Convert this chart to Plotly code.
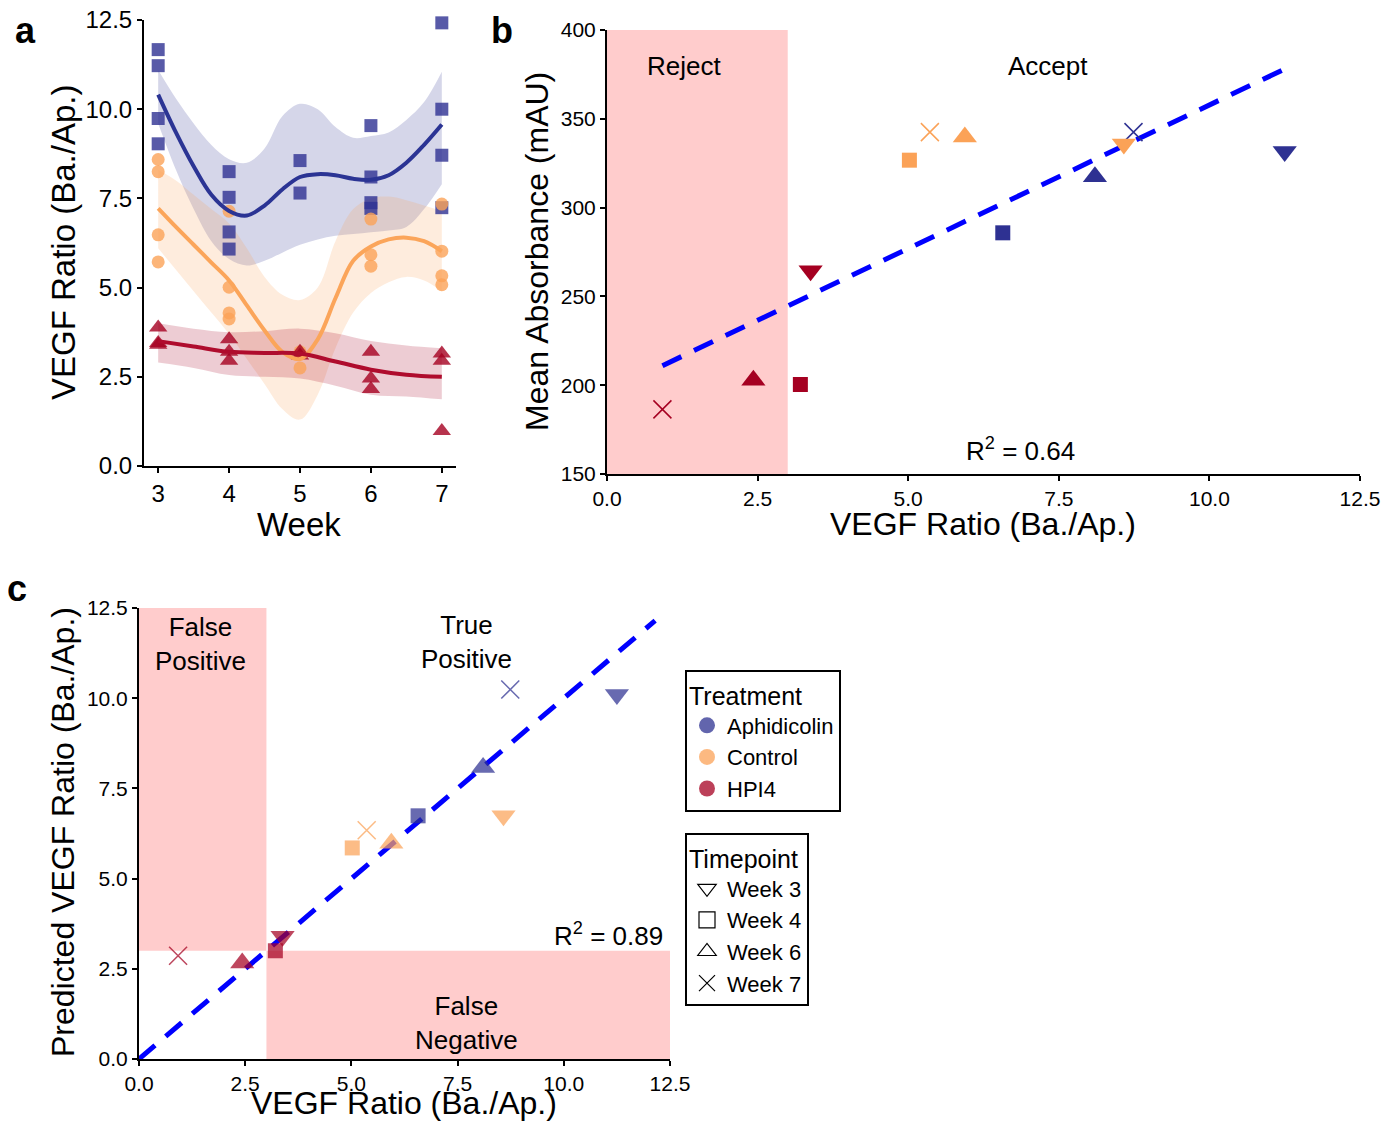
import plotly.graph_objects as go

W, H = 1395, 1122
OFF = 8  # page body margin in the browser
FONT = "Liberation Sans, Arial, Helvetica, sans-serif"

# ---------------- Panel a data ----------------
a_aph_week = [3, 3, 3, 3, 4, 4, 4, 4, 5, 5, 6, 6, 6, 6, 7, 7, 7, 7]
a_aph_val = [11.67, 11.22, 9.74, 9.03, 8.25, 7.53, 6.56, 6.08, 8.56, 7.65,
             9.54, 8.10, 7.38, 7.22, 12.42, 10.0, 8.71, 7.24]
a_ctl_week = [3, 3, 3, 3, 4, 4, 4, 4, 5, 5, 6, 6, 6, 7, 7, 7, 7]
a_ctl_val = [8.59, 8.25, 6.48, 5.72, 7.14, 5.01, 4.29, 4.12, 3.2, 2.75,
             6.92, 5.92, 5.6, 7.34, 6.02, 5.33, 5.08]
a_hpi_week = [3, 3, 3, 4, 4, 4, 5, 5, 6, 6, 6, 7, 7, 7]
a_hpi_val = [3.88, 3.45, 3.40, 3.55, 3.2, 2.95, 3.2, 3.1, 3.2, 2.45, 2.16,
             3.15, 2.95, 0.98]

fit_x = [3, 3.25, 3.5, 3.75, 4, 4.25, 4.5, 4.75, 5, 5.25, 5.5, 5.75, 6,
         6.25, 6.5, 6.75, 7]
aph_fit = [10.41, 9.35, 8.4, 7.6, 7.15, 7.02, 7.3, 7.75, 8.1, 8.18, 8.15,
           8.05, 8.02, 8.15, 8.5, 9.0, 9.57]
aph_hi = [11.1, 10.3, 9.6, 9.0, 8.6, 8.5, 8.9, 9.8, 10.15, 10.0, 9.5, 9.2,
          9.25, 9.35, 9.7, 10.2, 11.05]
aph_lo = [9.6, 8.3, 7.2, 6.3, 5.8, 5.62, 5.75, 5.98, 6.2, 6.35, 6.45, 6.5,
          6.55, 6.6, 6.7, 7.2, 7.9]
ctl_fit = [7.22, 6.7, 6.2, 5.7, 5.2, 4.5, 3.8, 3.2, 3.0, 3.55, 4.7, 5.75,
           6.15, 6.35, 6.4, 6.3, 6.02]
ctl_hi = [8.3, 8.0, 7.6, 7.2, 6.8, 6.1, 5.3, 4.8, 4.65, 5.0, 6.3, 7.2, 7.5,
          7.55, 7.45, 7.3, 7.15]
ctl_lo = [6.1, 5.5, 4.9, 4.3, 3.7, 3.0, 2.3, 1.6, 1.3, 2.0, 3.3, 4.3, 4.85,
          5.15, 5.3, 5.2, 4.9]
hpi_fit_x = [3, 3.5, 4, 4.5, 5, 5.5, 6, 6.5, 7]
hpi_fit = [3.5, 3.35, 3.2, 3.17, 3.15, 2.93, 2.7, 2.56, 2.5]
hpi_hi = [4.0, 3.85, 3.75, 3.78, 3.85, 3.72, 3.5, 3.38, 3.3]
hpi_lo = [2.9, 2.75, 2.55, 2.5, 2.45, 2.25, 2.0, 1.95, 1.87]

# ---------------- Panels b / c data ----------------
pt_treat = ["HPI4", "HPI4", "HPI4", "HPI4",
            "Control", "Control", "Control", "Control",
            "Aphidicolin", "Aphidicolin", "Aphidicolin", "Aphidicolin"]
pt_week = [7, 6, 4, 3, 4, 7, 6, 3, 7, 6, 4, 3]
obs_ratio = [0.92, 2.43, 3.21, 3.38, 5.02, 5.36, 5.94, 8.58, 8.74, 8.10, 6.57, 11.25]
mean_abs = [186.4, 202.8, 200.4, 264.4, 326.7, 342.5, 339.7, 335.8,
            342.5, 317.4, 285.8, 331.6]
pred_ratio = [2.86, 2.66, 3.0, 3.40, 5.85, 6.34, 5.98, 6.74, 10.24, 8.08, 6.74, 10.1]

fitb_x = [0.92, 11.25]
fitb_y = [211, 378]
fitc_x = [0, 12.15]
fitc_y = [0, 12.15]

treatments = ["Aphidicolin", "Control", "HPI4"]
timepoints = [3, 4, 6, 7]
timepoint_labels = ["Week 3", "Week 4", "Week 6", "Week 7"]

# ---------------- styles ----------------
COL = {"Aphidicolin": (46, 49, 146), "Control": (251, 162, 87), "HPI4": (165, 0, 33)}
LINECOL = {"Aphidicolin": "#2B3494", "Control": "#FBA55A", "HPI4": "#AF0C2D"}
SYM = {3: "triangle-down", 4: "square", 6: "triangle-up", 7: "x-thin"}
SIZE = {3: 21, 4: 15, 6: 21, 7: 18}
OPEN_SYM = {3: "triangle-down-open", 4: "square-open", 6: "triangle-up-open", 7: "x-thin"}
DASH = "21px,14px"


def rgba(t, a):
    return "rgba(%d,%d,%d,%s)" % (t[0], t[1], t[2], a)


def px(x):
    return (x - OFF) / W


def py(y):
    return 1 - (y - OFF) / H


fig = go.Figure()

# ----- panel a: ribbons -----
groups_a = [
    ("Aphidicolin", fit_x, aph_fit, aph_hi, aph_lo, a_aph_week, a_aph_val, "square", 13),
    ("Control", fit_x, ctl_fit, ctl_hi, ctl_lo, a_ctl_week, a_ctl_val, "circle", 13),
    ("HPI4", hpi_fit_x, hpi_fit, hpi_hi, hpi_lo, a_hpi_week, a_hpi_val, "triangle-up", 16),
]
for name, xs, fit, hi, lo, wk, val, sym, sz in groups_a:
    fig.add_trace(go.Scatter(x=xs, y=lo, mode="lines", line=dict(width=0, shape="spline"),
                             xaxis="x", yaxis="y", showlegend=False, hoverinfo="skip"))
    fig.add_trace(go.Scatter(x=xs, y=hi, mode="lines", line=dict(width=0, shape="spline"),
                             fill="tonexty", fillcolor=rgba(COL[name], 0.2),
                             xaxis="x", yaxis="y", showlegend=False, hoverinfo="skip"))
for name, xs, fit, hi, lo, wk, val, sym, sz in groups_a:
    fig.add_trace(go.Scatter(x=wk, y=val, mode="markers",
                             marker=dict(symbol=sym, size=sz, color=rgba(COL[name], 0.8),
                                         line=dict(width=0)),
                             xaxis="x", yaxis="y", showlegend=False, cliponaxis=False))
for name, xs, fit, hi, lo, wk, val, sym, sz in groups_a:
    fig.add_trace(go.Scatter(x=xs, y=fit, mode="lines",
                             line=dict(width=4, color=LINECOL[name], shape="spline"),
                             xaxis="x", yaxis="y", showlegend=False))


def scatter_pts(yvals, xa, ya, alpha):
    for name in treatments:
        idx = [i for i, t in enumerate(pt_treat) if t == name]
        syms = [SYM[pt_week[i]] for i in idx]
        sizes = [SIZE[pt_week[i]] for i in idx]
        lw = [1.5 if pt_week[i] == 7 else 0 for i in idx]
        fig.add_trace(go.Scatter(
            x=[obs_ratio[i] for i in idx], y=[yvals[i] for i in idx], mode="markers",
            marker=dict(symbol=syms, size=sizes, color=rgba(COL[name], 1),
                        opacity=alpha, line=dict(width=lw, color=rgba(COL[name], 1))),
            xaxis=xa, yaxis=ya, showlegend=False, cliponaxis=False))


# ----- panel b -----
fig.add_trace(go.Scatter(x=fitb_x, y=fitb_y, mode="lines",
                         line=dict(color="#0000FF", width=5, dash=DASH),
                         xaxis="x2", yaxis="y2", showlegend=False))
scatter_pts(mean_abs, "x2", "y2", 1.0)

# ----- panel c -----
fig.add_trace(go.Scatter(x=fitc_x, y=fitc_y, mode="lines",
                         line=dict(color="#0000FF", width=5, dash=DASH),
                         xaxis="x3", yaxis="y3", showlegend=False))
scatter_pts(pred_ratio, "x3", "y3", 0.72)

# ----- legends -----
for name in treatments:
    fig.add_trace(go.Scatter(x=[None], y=[None], mode="markers", name=name,
                             marker=dict(symbol="circle", size=16, color=rgba(COL[name], 0.75)),
                             legend="legend", showlegend=True, xaxis="x3", yaxis="y3"))
for wk, lab in zip(timepoints, timepoint_labels):
    fig.add_trace(go.Scatter(x=[None], y=[None], mode="markers", name=lab,
                             marker=dict(symbol=OPEN_SYM[wk], size=16, color="black",
                                         line=dict(width=1.2, color="black")),
                             legend="legend2", showlegend=True, xaxis="x3", yaxis="y3"))

axis_common = dict(showline=True, linecolor="black", linewidth=2, ticks="outside",
                   ticklen=5, tickwidth=1.5, tickcolor="black", showgrid=False,
                   zeroline=False, mirror=False, automargin=False,
                   ticklabeloverflow="allow")

fig.update_layout(
    template="none",
    width=W, height=H, margin=dict(l=0, r=0, t=0, b=0, pad=0, autoexpand=False),
    paper_bgcolor="white", plot_bgcolor="white",
    font=dict(family=FONT, color="black"),
    xaxis=dict(domain=[px(144), px(456)], range=[2.8, 7.2], anchor="y",
               tickvals=[3, 4, 5, 6, 7], tickfont=dict(size=24), **axis_common),
    yaxis=dict(domain=[py(466), py(20)], range=[0, 12.5], anchor="x",
               tickvals=[0, 2.5, 5, 7.5, 10, 12.5], tickformat=".1f",
               tickfont=dict(size=24), **axis_common),
    xaxis2=dict(domain=[px(607), px(1360)], range=[0, 12.5], anchor="y2",
                tickvals=[0, 2.5, 5, 7.5, 10, 12.5], tickformat=".1f",
                tickfont=dict(size=21), **axis_common),
    yaxis2=dict(domain=[py(474), py(30)], range=[150, 400], anchor="x2",
                tickvals=[150, 200, 250, 300, 350, 400],
                tickfont=dict(size=21), **axis_common),
    xaxis3=dict(domain=[px(139), px(670)], range=[0, 12.5], anchor="y3",
                tickvals=[0, 2.5, 5, 7.5, 10, 12.5], tickformat=".1f",
                tickfont=dict(size=21), **axis_common),
    yaxis3=dict(domain=[py(1059), py(608)], range=[0, 12.5], anchor="x3",
                tickvals=[0, 2.5, 5, 7.5, 10, 12.5], tickformat=".1f",
                tickfont=dict(size=21), **axis_common),
    legend=dict(x=px(685), y=py(670), xanchor="left", yanchor="top",
                bordercolor="black", borderwidth=2, bgcolor="white",
                font=dict(size=22), title=dict(text="Treatment", font=dict(size=25)),
                itemsizing="trace", traceorder="normal"),
    legend2=dict(x=px(685), y=py(833), xanchor="left", yanchor="top",
                 bordercolor="black", borderwidth=2, bgcolor="white",
                 font=dict(size=22), title=dict(text="Timepoint", font=dict(size=25)),
                 itemsizing="trace", traceorder="normal"),
)

pink = "rgb(255,204,204)"
fig.add_shape(type="rect", xref="x2", yref="y2", x0=0, x1=3, y0=150, y1=400,
              fillcolor=pink, line=dict(width=0), layer="below")
fig.add_shape(type="rect", xref="x3", yref="y3", x0=0, x1=3, y0=3, y1=12.5,
              fillcolor=pink, line=dict(width=0), layer="below")
fig.add_shape(type="rect", xref="x3", yref="y3", x0=3, x1=12.5, y0=0, y1=3,
              fillcolor=pink, line=dict(width=0), layer="below")


def ann(text, x, y, size, xref="paper", yref="paper", angle=0, bold=False, xanchor="center"):
    if bold:
        text = "<b>%s</b>" % text
    fig.add_annotation(text=text, x=x, y=y, xref=xref, yref=yref, showarrow=False,
                       font=dict(size=size, family=FONT, color="black"),
                       textangle=angle, xanchor=xanchor, yanchor="middle")


# axis titles
ann("VEGF Ratio (Ba./Ap.)", px(63), py(243), 33, angle=-90)
ann("Week", px(299), py(524), 33)
ann("Mean Absorbance (mAU)", px(537), py(252), 32, angle=-90)
ann("VEGF Ratio (Ba./Ap.)", px(983), py(524), 32)
ann("Predicted VEGF Ratio (Ba./Ap.)", px(63), py(832), 32, angle=-90)
ann("VEGF Ratio (Ba./Ap.)", px(404), py(1103), 32)

# panel letters
ann("a", px(25), py(30), 36, bold=True)
ann("b", px(502), py(30), 36, bold=True)
ann("c", px(17), py(588), 36, bold=True)
ann("F", px(1386), py(1110), 36, bold=True, xanchor="left")

# in-plot text
ann("Reject", 1.28, 380, 26, xref="x2", yref="y2")
ann("Accept", 7.32, 380, 26, xref="x2", yref="y2")
ann("R<sup>2</sup> = 0.64", 6.86, 164, 26, xref="x2", yref="y2")
ann("False<br>Positive", 1.44, 11.5, 26, xref="x3", yref="y3")
ann("True<br>Positive", 7.7, 11.56, 26, xref="x3", yref="y3")
ann("R<sup>2</sup> = 0.89", 11.06, 3.44, 26, xref="x3", yref="y3")
ann("False<br>Negative", 7.7, 1.0, 26, xref="x3", yref="y3")

fig.write_html("out.html")
